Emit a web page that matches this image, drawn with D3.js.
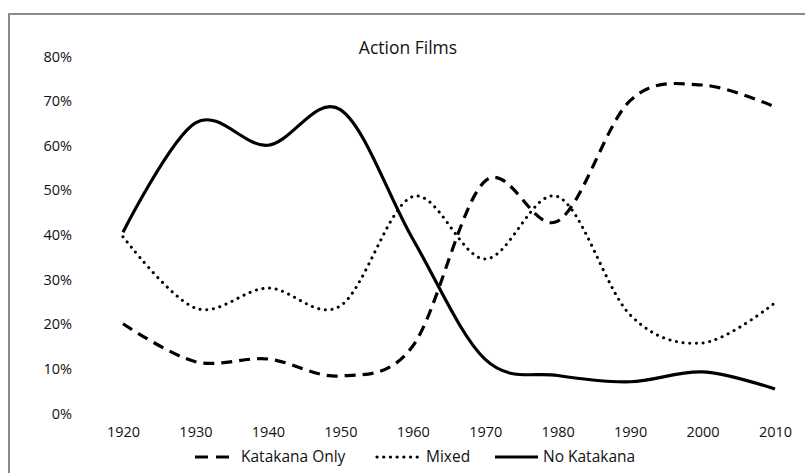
<!DOCTYPE html>
<html>
<head>
<meta charset="utf-8">
<script src="https://cdn.jsdelivr.net/npm/d3@7"></script>
<style>
  body { margin: 0; background: #fff; }
  text { font-family: 'Open Sans', sans-serif; fill: #111; }
</style>
</head>
<body>
<div class="container"></div>
<script>
const years = [1920, 1930, 1940, 1950, 1960, 1970, 1980, 1990, 2000, 2010];
const katakanaOnly = [0.20, 0.115, 0.121, 0.083, 0.15, 0.52, 0.43, 0.70, 0.735, 0.686];
const mixed = [0.395, 0.235, 0.28, 0.24, 0.485, 0.345, 0.485, 0.22, 0.157, 0.247];
const noKatakana = [0.405, 0.65, 0.60, 0.68, 0.39, 0.12, 0.084, 0.07, 0.092, 0.054];
const yTicks = [0, 0.1, 0.2, 0.3, 0.4, 0.5, 0.6, 0.7, 0.8];
const seriesNames = ['Katakana Only', 'Mixed', 'No Katakana'];

const width = 805;
const height = 473;

const svg = d3
  .select('.container')
  .append('svg')
  .attr('width', width)
  .attr('height', height);

// chart frame (only left and top edges visible)
svg
  .append('path')
  .attr('d', `M9,${height}V14H${width}`)
  .attr('fill', 'none')
  .attr('stroke', '#8a8a8a')
  .attr('stroke-width', 2);

const x = d3.scaleLinear().domain([1920, 2010]).range([123, 775]);
const y = d3.scaleLinear().domain([0, 0.8]).range([413, 56]);

// y axis labels
const yAxis = svg
  .append('g')
  .attr('transform', 'translate(72, 0)')
  .call(d3.axisLeft(y).tickValues(yTicks).tickFormat(d3.format('.0%')).tickSize(0).tickPadding(0));
yAxis.select('.domain').remove();
yAxis.selectAll('text').style('font-size', '14.5px').attr('fill', '#111').attr('dy', '0.35em');

// x axis labels
const xAxis = svg
  .append('g')
  .attr('transform', 'translate(0, 427)')
  .call(d3.axisBottom(x).tickValues(years).tickFormat(d3.format('d')).tickSize(0).tickPadding(0));
xAxis.select('.domain').remove();
xAxis.selectAll('text').style('font-size', '14.5px').attr('fill', '#111');

// title
svg
  .append('text')
  .attr('x', 408)
  .attr('y', 48)
  .attr('text-anchor', 'middle')
  .attr('dy', '0.35em')
  .style('font-size', '17.5px')
  .text('Action Films');

const styles = {
  'Katakana Only': { dash: '11,7', cap: 'butt' },
  'Mixed': { dash: '0.1,6.6', cap: 'round' },
  'No Katakana': { dash: null, cap: 'butt' }
};

const series = [
  { name: 'Katakana Only', values: katakanaOnly },
  { name: 'Mixed', values: mixed },
  { name: 'No Katakana', values: noKatakana }
];

const line = d3
  .line()
  .x((d, i) => x(years[i]))
  .y(d => y(d))
  .curve(d3.curveCardinal.tension(0));

svg
  .selectAll('.series')
  .data(series)
  .enter()
  .append('path')
  .attr('class', 'series')
  .attr('d', d => line(d.values))
  .attr('fill', 'none')
  .attr('stroke', '#000')
  .attr('stroke-width', d => (d.name === 'Mixed' ? 3 : 3.2))
  .attr('stroke-linecap', d => styles[d.name].cap)
  .attr('stroke-dasharray', d => styles[d.name].dash);

// legend
const legendItems = [
  { name: seriesNames[0], x1: 195, x2: 236 },
  { name: seriesNames[1], x1: 377, x2: 421 },
  { name: seriesNames[2], x1: 495, x2: 538 }
];

const legend = svg
  .selectAll('.legend')
  .data(legendItems)
  .enter()
  .append('g')
  .attr('class', 'legend');

legend
  .append('line')
  .attr('x1', d => d.x1)
  .attr('x2', d => d.x2)
  .attr('y1', 457)
  .attr('y2', 457)
  .attr('stroke', '#000')
  .attr('stroke-width', 3.2)
  .attr('stroke-linecap', d => styles[d.name].cap)
  .attr('stroke-dasharray', d => (d.name === 'Katakana Only' ? '13,8' : styles[d.name].dash));

legend
  .append('text')
  .attr('x', d => d.x2 + 5)
  .attr('y', 457)
  .attr('dy', '0.35em')
  .style('font-size', '15.5px')
  .text(d => d.name);
</script>
</body>
</html>
